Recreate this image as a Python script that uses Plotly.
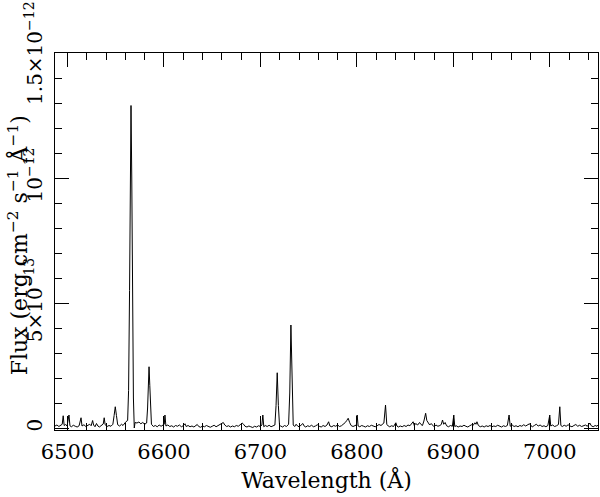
import plotly.graph_objects as go

# Wavelength (Angstrom) and flux (units of 1e-13 erg cm^-2 s^-1 A^-1)
wavelength = [
    6487, 6489, 6491, 6493, 6494.5, 6495.5, 6496.5, 6498, 6499.5, 6501.5, 6502.5, 6504, 6506, 6508, 6510,
    6512, 6514, 6515, 6517, 6519, 6521, 6523, 6524.5, 6526, 6527, 6528.5, 6530, 6531.5, 6533, 6535,
    6537, 6538, 6539, 6541, 6543, 6545, 6547, 6548.3, 6549.5, 6550.7, 6552, 6554, 6556, 6557.5, 6559,
    6560.5, 6562.3, 6563.3, 6564.3, 6565.0, 6565.8, 6566.6, 6567.4, 6568.3, 6569.2, 6570, 6572, 6574,
    6576, 6578, 6580, 6582, 6583, 6583.8, 6584.5, 6585.3, 6586.2, 6587, 6589, 6591, 6593, 6595, 6597,
    6599, 6600.3, 6601, 6602, 6604, 6606, 6608, 6610, 6612, 6614, 6616, 6618, 6620, 6621.8, 6623, 6625,
    6627, 6629, 6631, 6633, 6634.5, 6636, 6638, 6640, 6642, 6644, 6646, 6648, 6650, 6652, 6654, 6656,
    6658, 6660, 6661.5, 6663, 6665, 6667, 6669, 6671, 6673, 6675, 6677, 6679, 6681, 6682.5, 6684, 6686,
    6688, 6690, 6692, 6694, 6696, 6698, 6700, 6701.5, 6702.5, 6703.5, 6705, 6707, 6709, 6711, 6713,
    6715, 6716.2, 6717.4, 6718.6, 6719.8, 6721, 6723, 6725, 6727, 6729.2, 6730.4, 6731.6, 6732.8, 6734,
    6735.5, 6737, 6738.5, 6740, 6742, 6744, 6745.5, 6747, 6749, 6751, 6753, 6755, 6757, 6759, 6761,
    6763, 6765, 6767, 6769, 6770.7, 6772, 6774, 6776, 6778, 6780, 6782, 6784, 6786, 6788, 6789.5, 6791,
    6792.5, 6794, 6796, 6798, 6799.5, 6800.3, 6801.3, 6803, 6805, 6807, 6809, 6811, 6813, 6815, 6817,
    6819, 6821, 6823, 6825, 6826.5, 6828, 6829.7, 6831, 6832.5, 6834, 6836, 6838, 6840.4, 6841.5, 6843,
    6845, 6847, 6849, 6851, 6853, 6855, 6856.5, 6858.3, 6859.5, 6861, 6863, 6865, 6866.5, 6868, 6869.5,
    6871.3, 6872.5, 6874, 6875.5, 6877, 6878.5, 6880, 6882, 6884, 6886, 6887.5, 6888.8, 6890, 6891.5,
    6893, 6895, 6897, 6899, 6900.5, 6901.5, 6903, 6905, 6907, 6909, 6911, 6913, 6915, 6917, 6919,
    6920.5, 6922.3, 6923.5, 6924.5, 6926, 6928, 6930, 6932, 6934, 6936, 6938, 6940, 6942, 6944, 6946,
    6948, 6950, 6952, 6954, 6956, 6957.8, 6959, 6961, 6963, 6965, 6967, 6969, 6971, 6973, 6975, 6977,
    6979, 6980.5, 6982, 6984, 6986, 6988, 6990, 6992, 6994, 6996, 6998, 7000, 7001, 7003, 7005, 7007,
    7009, 7010.4, 7011.5, 7013, 7015, 7017, 7019, 7021, 7023, 7025, 7027, 7029, 7031, 7033, 7035, 7037,
    7039, 7041.5, 7043, 7045, 7047, 7049, 7050,
]
flux_e13 = [
    0.08, 0.12, 0.06, 0.10, 0.15, 0.49, 0.10, 0.14, 0.08, 0.52, 0.09, 0.05, 0.11, 0.07, 0.04,
    0.09, 0.41, 0.08, 0.13, 0.06, 0.10, 0.15, 0.09, 0.30, 0.12, 0.05, 0.18, 0.08, 0.04, 0.11,
    0.16, 0.41, 0.13, 0.06, 0.10, 0.07, 0.15, 0.50, 0.85, 0.50, 0.13, 0.08, 0.15, 0.10, 0.20,
    0.25, 0.30, 1.50, 5.50, 10.5, 12.9, 10.0, 5.00, 1.20, 0.00, 0.22, 0.20, 0.24,
    0.17, 0.22, 0.15, 0.20, 0.80, 1.80, 2.45, 1.70, 0.60, 0.15, 0.06, 0.10, 0.05, 0.12, 0.07,
    0.10, 0.15, 0.52, 0.08, 0.12, 0.06, 0.09, 0.04, 0.10, 0.07, 0.12, 0.05, 0.09, 0.17, 0.06, 0.10,
    0.05, 0.08, 0.04, 0.09, 0.14, 0.06, 0.03, 0.08, 0.05, 0.10, 0.06, 0.03, 0.07, 0.11, 0.05, 0.09,
    0.13, 0.18, 0.22, 0.12, 0.06, 0.09, 0.04, 0.08, 0.05, 0.10, 0.07, 0.13, 0.20, 0.15, 0.07, 0.04,
    0.08, 0.05, 0.02, 0.07, 0.04, 0.09, 0.06, 0.12, 0.52, 0.05, 0.10, 0.06, 0.11, 0.05, 0.09,
    0.12, 0.90, 2.21, 0.90, 0.10, 0.08, 0.04, 0.10, 0.06, 0.15, 1.40, 4.12, 1.50, 0.12,
    0.06, 0.15, 0.08, 0.05, 0.11, 0.18, 0.07, 0.04, 0.09, 0.06, 0.11, 0.05, 0.08, 0.13, 0.07,
    0.04, 0.10, 0.06, 0.12, 0.25, 0.08, 0.05, 0.10, 0.07, 0.12, 0.06, 0.09, 0.15, 0.22, 0.30, 0.39,
    0.22, 0.10, 0.06, 0.09, 0.12, 0.52, 0.08, 0.05, 0.10, 0.07, 0.04, 0.09, 0.06, 0.11, 0.07,
    0.05, 0.09, 0.14, 0.10, 0.16, 0.20, 0.92, 0.15, 0.08, 0.05, 0.09, 0.06, 0.21, 0.08, 0.04,
    0.08, 0.05, 0.10, 0.06, 0.12, 0.09, 0.16, 0.25, 0.10, 0.18, 0.12, 0.22, 0.14, 0.10, 0.28,
    0.59, 0.30, 0.22, 0.12, 0.18, 0.09, 0.05, 0.12, 0.07, 0.10, 0.14, 0.32, 0.15, 0.22,
    0.09, 0.05, 0.10, 0.07, 0.52, 0.06, 0.09, 0.04, 0.08, 0.06, 0.11, 0.07, 0.04, 0.09, 0.13,
    0.10, 0.21, 0.15, 0.25, 0.10, 0.05, 0.08, 0.04, 0.09, 0.06, 0.10, 0.05, 0.08, 0.06, 0.11,
    0.07, 0.04, 0.09, 0.06, 0.10, 0.52, 0.07, 0.12, 0.06, 0.09, 0.05, 0.10, 0.07, 0.13, 0.08, 0.11,
    0.17, 0.09, 0.05, 0.10, 0.15, 0.08, 0.12, 0.06, 0.09, 0.05, 0.10, 0.52, 0.08, 0.12, 0.06, 0.09,
    0.14, 0.85, 0.10, 0.06, 0.11, 0.07, 0.13, 0.08, 0.05, 0.10, 0.14, 0.07, 0.11, 0.06, 0.09, 0.12,
    0.07, 0.20, 0.09, 0.05, 0.10, 0.07, 0.12,
]

x_tick_vals = [6500, 6600, 6700, 6800, 6900, 7000]
x_tick_text = ["6500", "6600", "6700", "6800", "6900", "7000"]
y_tick_vals = [0, 5e-13, 1e-12, 1.5e-12]
y_tick_text = ["0", "5×10<sup>−13</sup>", "10<sup>−12</sup>", "1.5×10<sup>−12</sup>\u00a0"]

flux = [f * 1e-13 for f in flux_e13]

FONT = "DejaVu Serif"
FS = 21
FY = 20
FT = 22

fig = go.Figure()
fig.add_trace(go.Scatter(x=wavelength, y=flux, mode="lines",
                         line=dict(color="black", width=1), showlegend=False,
                         hoverinfo="skip"))

fig.update_layout(
    width=600, height=497,
    margin=dict(l=55, r=2, t=53, b=67),
    paper_bgcolor="white", plot_bgcolor="white",
    font=dict(family=FONT, size=FS, color="black"),
    xaxis=dict(
        range=[6487, 7050], showgrid=False, zeroline=False, automargin=False,
        showline=True, linecolor="black", linewidth=1, mirror="ticks",
        ticks="inside", ticklen=14, tickwidth=1, tickcolor="black",
        tickvals=x_tick_vals, ticktext=x_tick_text, ticklabelstandoff=3,
        ticklabeloverflow="allow",
        minor=dict(tick0=6500, dtick=20, ticks="inside", ticklen=7,
                   tickwidth=1, tickcolor="black", showgrid=False),
        title=dict(text="Wavelength (Å)", font=dict(family=FONT, size=FT), standoff=9),
    ),
    yaxis=dict(
        range=[-0.08e-13, 15.0e-13], showgrid=False, zeroline=False, automargin=False,
        showline=True, linecolor="black", linewidth=1, mirror="ticks",
        ticks="inside", ticklen=14, tickwidth=1, tickcolor="black",
        tickvals=y_tick_vals, ticktext=y_tick_text, tickangle=-90,
        tickfont=dict(family=FONT, size=FY),
        ticklabelstandoff=4, ticklabeloverflow="allow",
        minor=dict(tick0=0, dtick=1e-13, ticks="inside", ticklen=7,
                   tickwidth=1, tickcolor="black", showgrid=False),
    ),
)

fig.add_annotation(
    text="Flux (erg cm<sup>−2</sup> s<sup>−1</sup> Å<sup>−1</sup>)",
    xref="paper", yref="paper", x=-0.068, y=0.49, xanchor="center", yanchor="middle",
    textangle=-90, showarrow=False, font=dict(family=FONT, size=FT, color="black"),
)

fig.write_html("out.html", config={"displayModeBar": False, "staticPlot": True},
               post_script="document.body.style.margin='0';document.body.style.overflow='hidden';")
